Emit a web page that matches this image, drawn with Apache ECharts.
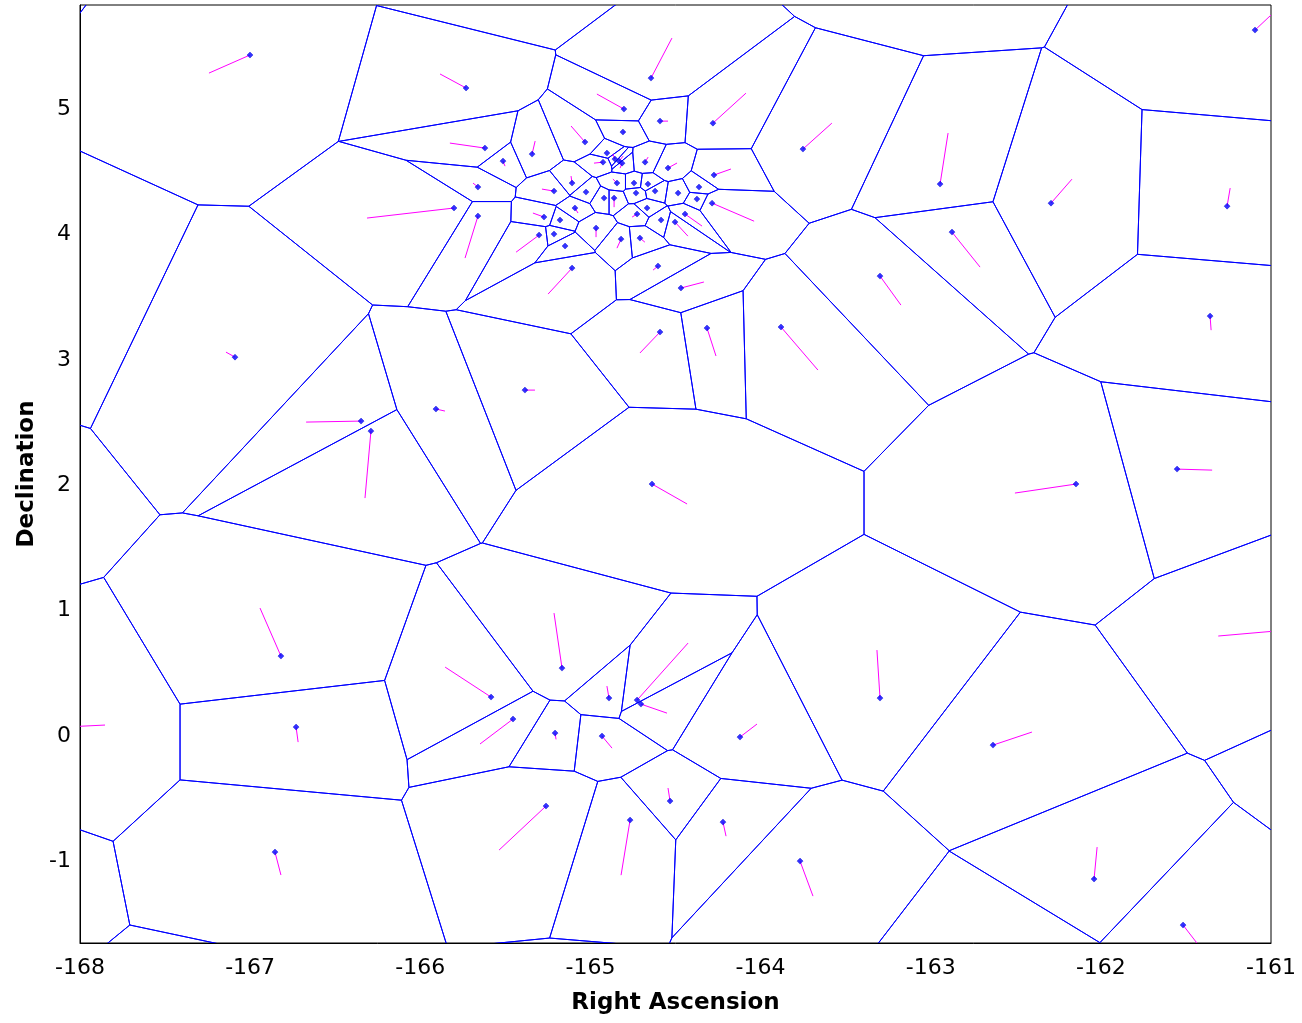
<!DOCTYPE html>
<html>
<head>
<meta charset="utf-8">
<script src="https://cdn.jsdelivr.net/npm/echarts@6/dist/echarts.min.js"></script>
<style>html,body{margin:0;padding:0;background:#fff}#c{width:1302px;height:1023px}</style>
</head>
<body>
<div id="c"></div>
<script>
// Sites (Right Ascension, Declination) and their motion vectors
const ra = [
-167.001,-165.731,-164.644,-163.751,-162.945,-162.293,-161.258,-161.094,-162.875,-163.298,
-161.358,-163.880,-164.315,-164.591,-167.089,-165.385,-165.908,-166.348,-166.290,-164.638,
-162.146,-161.552,-166.819,-165.167,-165.584,-164.726,-164.703,-164.891,-163.298,-165.455,
-165.208,-164.932,-164.121,-166.730,-162.634,-164.532,-165.261,-164.767,-164.221,-163.768,
-166.854,-162.040,-161.517,
-164.803,-164.809,-165.032,-165.343,-165.620,-165.514,-164.903,-164.926,-164.856,-164.832,
-164.814,-164.679,-164.544,-164.591,-164.280,-164.274,-165.661,-165.214,-165.108,-165.026,
-164.844,-164.744,-164.662,-164.620,-164.732,-164.485,-164.362,-164.374,-164.920,-164.861,
-165.091,-165.179,-165.273,-164.967,-164.820,-165.149,-165.214,-165.302,-164.667,-164.726,
-164.585,-164.503,-164.444,-164.285,-164.709,-164.603,-164.468,-165.108,-165.661,-165.802,
-168.24,-168.845,-168.094,-168.692,-167.294,-164.985,-162.51,-160.904,-160.243,-165.44,-163.13,-168.81
];
const dec = [
5.431,5.168,5.247,4.681,4.402,4.250,4.226,5.630,4.019,3.668,
3.349,3.262,3.254,3.222,3.022,2.759,2.608,2.512,2.432,2.010,
2.010,2.129,0.638,0.542,0.311,0.287,0.255,0.303,0.303,0.136,
0.024,0.000,-0.008,0.072,-0.072,-0.518,-0.558,-0.670,-0.686,-0.997,
-0.925,-1.140,-1.507,
5.000,4.817,4.737,4.641,4.689,4.585,4.649,4.577,4.601,4.585,
4.569,4.577,4.530,4.904,4.888,4.474,4.378,4.346,4.410,4.338,
4.410,4.410,4.402,4.346,4.330,4.330,4.378,4.282,4.290,4.290,
4.211,4.115,4.139,4.051,3.963,3.908,4.003,3.995,4.211,4.163,
4.115,4.099,4.163,4.250,3.971,3.748,3.573,3.732,4.147,4.211,
3.43,1.98,0.072,-1.196,-2.453,-2.632,-1.71,0.846,-0.228,6.03,6.45,6.44
];
const vRa = [
-0.241,-0.153,0.123,0.170,0.047,0.123,0.018,0.094,0.165,0.123,
0.006,0.217,0.053,-0.118,-0.053,0.059,0.053,-0.323,-0.035,0.206,
-0.359,0.206,-0.123,-0.047,-0.270,0.300,0.153,-0.012,-0.018,-0.194,
0.006,0.059,0.100,0.012,0.229,-0.012,-0.276,-0.053,0.018,0.076,
0.035,0.018,0.082,
-0.159,0.010,-0.082,0.018,-0.206,0.012,0,-0.053,-0.012,0.024,
-0.012,0.018,0.053,0.047,0.194,0.100,-0.029,-0.071,-0.006,0,
-0.024,0,0,0,0,0,0,0,0,0,
0.018,0,-0.065,0,-0.024,0,0,-0.135,0,-0.029,
0,0.076,0.100,0.247,0.029,-0.029,0.135,-0.141,-0.076,-0.511,
0,0,0.241,0,0,0,0,-0.406,0,0,0,0
];
const vDec = [
-0.144,0.112,0.319,0.207,0.407,0.191,0.144,0.120,-0.279,-0.231,
-0.112,-0.343,-0.223,-0.167,0.040,0,-0.016,-0.008,-0.534,-0.159,
-0.072,-0.008,0.383,0.439,0.239,0.455,-0.072,0.096,0.383,-0.199,
-0.050,-0.096,0.104,-0.120,0.104,0.104,-0.351,-0.439,-0.112,-0.279,
-0.183,0.255,-0.144,
0.120,0,0.128,0.104,0.040,-0.040,0,-0.008,0.040,0.040,
-0.040,0.040,0.040,0,0.239,0.048,0.032,0.016,0.056,0,
0.032,0,0,0,0,0,0,0,0,-0.072,
-0.040,0,0.032,-0.072,-0.072,0,0,-0.136,0,-0.024,
0,-0.112,-0.096,-0.144,-0.032,-0.032,0.048,-0.207,-0.335,-0.080,
0,0,0.016,0,0,0,0,-0.048,0,0,0,0
];
const xTicks = [-168,-167,-166,-165,-164,-163,-162,-161];
const yTicks = [-1,0,1,2,3,4,5];

// Voronoi cells by half-plane clipping (data space)
function clipPoly(poly, a, b, c) {
  const out = [];
  for (let i = 0; i < poly.length; i++) {
    const P = poly[i], Q = poly[(i + 1) % poly.length];
    const fp = a * P[0] + b * P[1] - c, fq = a * Q[0] + b * Q[1] - c;
    if (fp <= 0) out.push(P);
    if ((fp < 0 && fq > 0) || (fp > 0 && fq < 0)) {
      const t = fp / (fp - fq);
      out.push([P[0] + t * (Q[0] - P[0]), P[1] + t * (Q[1] - P[1])]);
    }
  }
  return out;
}
const cells = ra.map((xi, i) => {
  const yi = dec[i];
  let poly = [[-190, -20], [-140, -20], [-140, 30], [-190, 30]];
  for (let j = 0; j < ra.length; j++) {
    if (j === i) continue;
    const xj = ra[j], yj = dec[j];
    const a = xj - xi, b = yj - yi;
    const c = (xj * xj + yj * yj - xi * xi - yi * yi) / 2;
    poly = clipPoly(poly, a, b, c);
    if (!poly.length) break;
  }
  return poly;
});

const chart = echarts.init(document.getElementById('c'), null, {renderer: 'canvas'});
chart.setOption({
  backgroundColor: '#ffffff',
  animation: false,
  grid: {left: 80, right: 31, top: 5, bottom: 80, show: true, borderColor: '#000', borderWidth: 1, backgroundColor: 'transparent'},
  xAxis: {
    type: 'value', min: -168, max: -161, interval: 1,
    name: 'Right Ascension', nameLocation: 'middle', nameGap: 49,
    nameTextStyle: {fontFamily: 'DejaVu Sans', fontWeight: 'bold', fontSize: 23, color: '#000'},
    axisLine: {show: true, onZero: false, lineStyle: {color: '#000', width: 1}},
    axisTick: {show: false}, splitLine: {show: false},
    axisLabel: {margin: 14, fontFamily: 'DejaVu Sans', fontSize: 22, color: '#000',
      formatter: v => xTicks.includes(Math.round(v)) ? String(Math.round(v)) : ''}
  },
  yAxis: {
    type: 'value', min: -1.65, max: 5.83, splitNumber: 7,
    name: 'Declination', nameLocation: 'middle', nameGap: 40, nameRotate: 90,
    nameTextStyle: {fontFamily: 'DejaVu Sans', fontWeight: 'bold', fontSize: 23, color: '#000'},
    axisLine: {show: true, onZero: false, lineStyle: {color: '#000', width: 1}},
    axisTick: {show: false}, splitLine: {show: false},
    axisLabel: {margin: 9, fontFamily: 'DejaVu Sans', fontSize: 22, color: '#000', showMinLabel: false, showMaxLabel: false,
      formatter: v => (Math.abs(v - Math.round(v)) < 1e-6 && yTicks.includes(Math.round(v))) ? String(Math.round(v)) : ''}
  },
  series: [
    {
      type: 'custom', clip: true, z: 1, silent: true,
      data: ra.map((x, i) => [x, dec[i]]),
      renderItem: (params, api) => {
        const poly = cells[params.dataIndex];
        if (!poly || poly.length < 3) return null;
        return {type: 'polygon', shape: {points: poly.map(p => api.coord(p))},
          style: {fill: 'none', stroke: '#0000ff', lineWidth: 1}};
      }
    },
    {
      type: 'custom', clip: true, z: 2, silent: true,
      data: ra.map((x, i) => [x, dec[i], vRa[i], vDec[i]]),
      renderItem: (params, api) => {
        const i = params.dataIndex;
        if (vRa[i] === 0 && vDec[i] === 0) return null;
        const p0 = api.coord([ra[i], dec[i]]);
        const p1 = api.coord([ra[i] + vRa[i], dec[i] + vDec[i]]);
        return {type: 'line', shape: {x1: p0[0], y1: p0[1], x2: p1[0], y2: p1[1]},
          style: {stroke: '#ff00ff', lineWidth: 1}};
      }
    },
    {
      type: 'scatter', clip: true, z: 3, silent: true,
      symbol: 'diamond', symbolSize: 6,
      itemStyle: {color: '#0000ff', borderColor: '#0000cc', borderWidth: 0.5},
      data: ra.map((x, i) => [x, dec[i]])
    }
  ]
});
</script>
</body>
</html>
